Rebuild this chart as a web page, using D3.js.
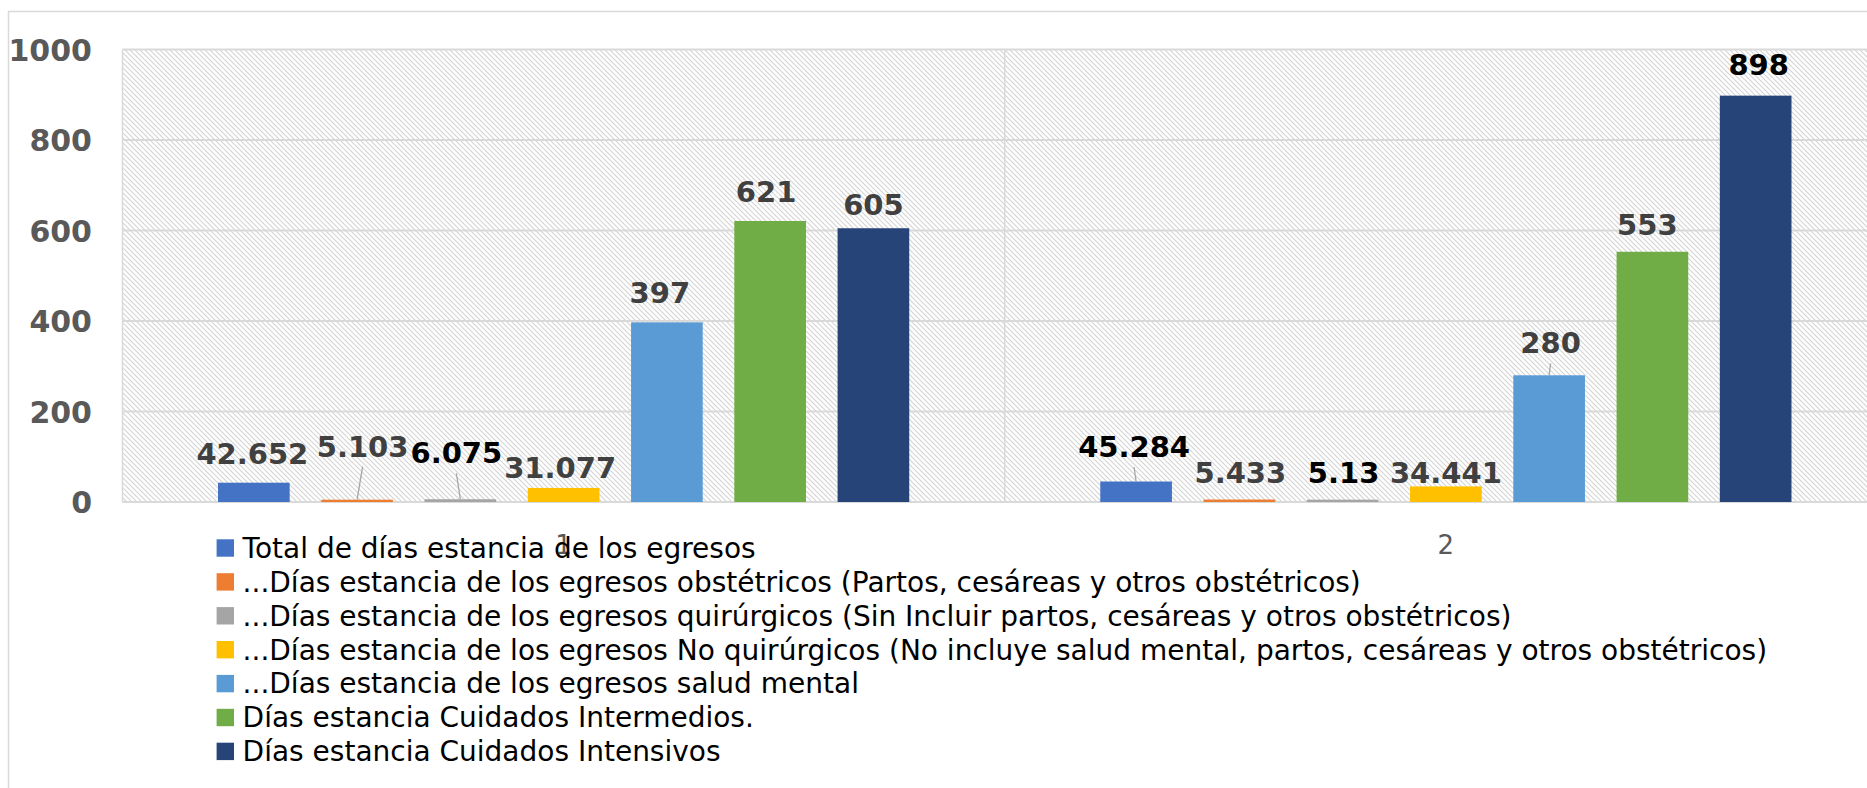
<!DOCTYPE html>
<html>
<head>
<meta charset="utf-8">
<script src="https://cdn.jsdelivr.net/npm/d3@7"></script>
<style>
  html, body { margin: 0; padding: 0; background: #fff; }
  svg { display: block; }
</style>
</head>
<body>
<svg id="chart" width="1867" height="788"></svg>
<script>
// ---------- data ----------
const categories = ["1", "2"];
const seriesNames = [
  "Total de días estancia de los egresos",
  "...Días estancia de los egresos obstétricos (Partos, cesáreas y otros obstétricos)",
  "...Días estancia de los egresos quirúrgicos (Sin Incluir partos, cesáreas y otros obstétricos)",
  "...Días estancia de los egresos No quirúrgicos (No incluye salud mental, partos, cesáreas y otros obstétricos)",
  "...Días estancia de los egresos salud mental",
  "Días estancia Cuidados Intermedios.",
  "Días estancia Cuidados Intensivos"
];
const valuesCat1 = [42.652, 5.103, 6.075, 31.077, 397, 621, 605];
const valuesCat2 = [45.284, 5.433, 5.13, 34.441, 280, 553, 898];
const labelsCat1 = ["42.652", "5.103", "6.075", "31.077", "397", "621", "605"];
const labelsCat2 = ["45.284", "5.433", "5.13", "34.441", "280", "553", "898"];
const yTicks = [0, 200, 400, 600, 800, 1000];

// ---------- styling / layout (not data) ----------
const seriesColors = ["#4472C4", "#ED7D31", "#A5A5A5", "#FFC000", "#5B9BD5", "#70AD47", "#264478"];
const labelColorsCat1 = ["#404040", "#404040", "#000000", "#404040", "#404040", "#404040", "#404040"];
const labelColorsCat2 = ["#000000", "#404040", "#000000", "#404040", "#404040", "#404040", "#000000"];
// manual label displacement (as in the original, labels dragged by hand)
const labelDxCat1 = [-1.5, 5.5, -4, -3.5, -7, -4, 0];
const labelDyCat1 = [0, -24, -17, 9, 0, 0, 6];
const labelDxCat2 = [-2, 1, 1, 0, 1.5, -5, 3];
const labelDyCat2 = [-5.5, 2.5, 2, 15.6, -3, 2, -2];
const leaderCat1 = [false, true, true, false, false, false, false];
const leaderCat2 = [true, false, false, false, true, false, false];

const FONT = "'DejaVu Sans', Verdana, sans-serif";

const svg = d3.select("#chart");
const W = 1867, H = 788;
const plot = { left: 122.5, right: 1887, top: 49.5, bottom: 502 };

svg.append("rect").attr("width", W).attr("height", H).attr("fill", "#fff");

// outer chart border
svg.append("rect")
  .attr("x", 8.5).attr("y", 11.5).attr("width", 2000).attr("height", 1000)
  .attr("fill", "none").attr("stroke", "#d9d9d9").attr("stroke-width", 1.5);

// hatch pattern
const defs = svg.append("defs");
const pat = defs.append("pattern")
  .attr("id", "hatch").attr("patternUnits", "userSpaceOnUse")
  .attr("width", 5).attr("height", 5);
pat.append("rect").attr("width", 5).attr("height", 5).attr("fill", "#fff");
pat.append("path")
  .attr("d", "M0,0 L5,5 M-1,4 L1,6 M4,-1 L6,1")
  .attr("stroke", "#d4d4d4").attr("stroke-width", 1.1).attr("fill", "none");

// scales
const x0 = d3.scaleBand().domain(categories).range([plot.left, plot.right]).padding(0);
const x1 = d3.scaleBand().domain(d3.range(seriesNames.length))
  .range([0, x0.bandwidth()]).paddingInner(0.306).paddingOuter(0.925);
const y = d3.scaleLinear().domain([0, 1000]).range([plot.bottom, plot.top]);

// plot background
svg.append("rect")
  .attr("x", plot.left).attr("y", plot.top)
  .attr("width", plot.right - plot.left).attr("height", plot.bottom - plot.top)
  .attr("fill", "url(#hatch)");

// horizontal gridlines
svg.append("g").selectAll("line").data(yTicks).join("line")
  .attr("x1", plot.left).attr("x2", plot.right)
  .attr("y1", d => y(d)).attr("y2", d => y(d))
  .attr("stroke", "#d9d9d9").attr("stroke-width", 2);

// vertical category boundary lines
const bounds = categories.map(c => x0(c)).concat([x0(categories[categories.length - 1]) + x0.bandwidth()]);
svg.append("g").selectAll("line").data(bounds).join("line")
  .attr("x1", d => d).attr("x2", d => d)
  .attr("y1", plot.top).attr("y2", plot.bottom)
  .attr("stroke", "#d9d9d9").attr("stroke-width", 1.5);

// y axis labels
const yAxis = d3.axisLeft(y).tickValues(yTicks).tickSize(0).tickPadding(0).tickFormat(d3.format("d"));
const gy = svg.append("g").attr("transform", `translate(92,0)`).call(yAxis);
gy.select(".domain").remove();
gy.selectAll("text")
  .attr("font-family", FONT).attr("font-weight", "bold").attr("font-size", 30)
  .attr("fill", "#595959").attr("dy", "0.36em");

// category labels
svg.append("g").selectAll("text").data(categories).join("text")
  .attr("x", d => x0(d) + x0.bandwidth() / 2)
  .attr("y", 554)
  .attr("text-anchor", "middle")
  .attr("font-family", FONT).attr("font-size", 26).attr("fill", "#595959")
  .text(d => d);

// bars
const groups = [
  { cat: categories[0], values: valuesCat1, labels: labelsCat1, colors: labelColorsCat1, dx: labelDxCat1, dy: labelDyCat1, leader: leaderCat1 },
  { cat: categories[1], values: valuesCat2, labels: labelsCat2, colors: labelColorsCat2, dx: labelDxCat2, dy: labelDyCat2, leader: leaderCat2 }
];

groups.forEach(g => {
  const gg = svg.append("g").attr("transform", `translate(${x0(g.cat)},0)`);
  const items = g.values.map((v, i) => ({ v, i }));
  gg.selectAll("rect").data(items).join("rect")
    .attr("x", d => x1(d.i)).attr("width", x1.bandwidth())
    .attr("y", d => y(d.v)).attr("height", d => y(0) - y(d.v))
    .attr("fill", d => seriesColors[d.i]);

  // leader lines
  gg.selectAll("line.leader").data(items.filter(d => g.leader[d.i])).join("line")
    .attr("class", "leader")
    .attr("x1", d => x1(d.i) + x1.bandwidth() / 2)
    .attr("y1", d => y(d.v))
    .attr("x2", d => x1(d.i) + x1.bandwidth() / 2 + g.dx[d.i])
    .attr("y2", d => y(d.v) - 19 + g.dy[d.i] + 10)
    .attr("stroke", "#a6a6a6").attr("stroke-width", 1.3);

  gg.selectAll("text").data(items).join("text")
    .attr("x", d => x1(d.i) + x1.bandwidth() / 2 + g.dx[d.i])
    .attr("y", d => y(d.v) - 19 + g.dy[d.i])
    .attr("text-anchor", "middle")
    .attr("font-family", FONT).attr("font-weight", "bold").attr("font-size", 29)
    .attr("fill", d => g.colors[d.i])
    .text(d => g.labels[d.i]);
});

// legend
const legend = svg.append("g").attr("transform", "translate(216.6,539.3)");
const rows = legend.selectAll("g").data(seriesNames).join("g")
  .attr("transform", (d, i) => `translate(0,${i * 33.9})`);
rows.append("rect").attr("width", 17.4).attr("height", 17.4).attr("fill", (d, i) => seriesColors[i]);
rows.append("text")
  .attr("x", 26).attr("y", 18.5)
  .attr("font-family", FONT).attr("font-size", 28).attr("fill", "#000")
  .text(d => d);
</script>
</body>
</html>
